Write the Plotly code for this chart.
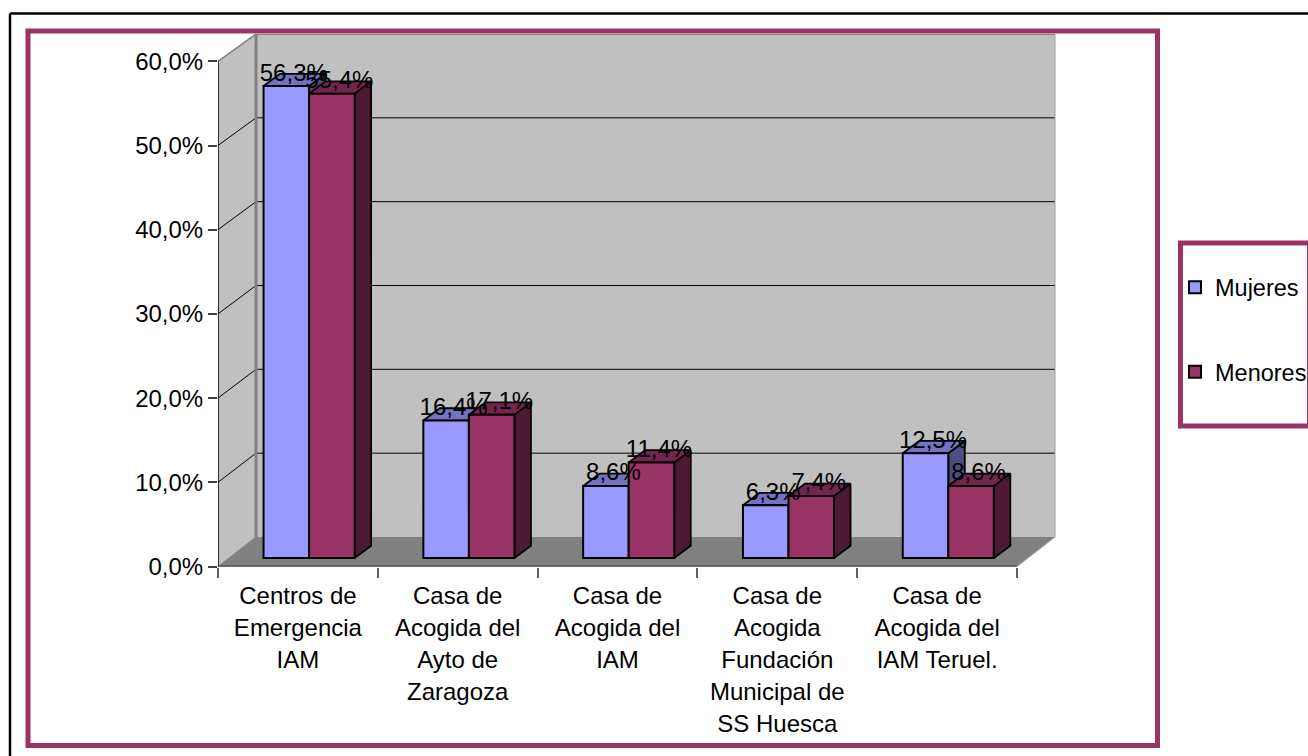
import plotly.graph_objects as go

categories = [
    ["Centros de", "Emergencia", "IAM"],
    ["Casa de", "Acogida del", "Ayto de", "Zaragoza"],
    ["Casa de", "Acogida del", "IAM"],
    ["Casa de", "Acogida", "Fundación", "Municipal de", "SS Huesca"],
    ["Casa de", "Acogida del", "IAM Teruel."],
]
mujeres = [56.3, 16.4, 8.6, 6.3, 12.5]
menores = [55.4, 17.1, 11.4, 7.4, 8.6]
y_ticks = [0, 10, 20, 30, 40, 50, 60]

W, H = 1308, 756
FONT = "Liberation Sans"
FS = 23.5
AXFS = 24
LABFS = 24
PURPLE = "#993366"
BLUE = "#9999FF"

# plot box in pixels (front plane origin + wall depth)
px_left, px_right = 218, 1056
py_top, py_bottom = 34, 566.5
x_unit = 159.8   # px per category
y_unit = 8.42    # px per 1 %
x_max = (px_right - px_left) / x_unit
y_max = (py_bottom - py_top) / y_unit

# depth of the walls and of the bars, in axis units
wall_dx, wall_dy = 38 / x_unit, 29.5 / y_unit
wall_scale = (y_max - wall_dy) / 60
bar_dx, bar_dy = 16.5 / x_unit, 12.3 / y_unit
bar_base = 8.5 / y_unit
bar_scale = 0.9955
group_center = 0.57
gap = 0.43
bar_w = (1 - gap) / 2
n = len(categories)

shapes = []


def poly(pts):
    return "M" + "L".join(f"{a},{b}" for a, b in pts) + "Z"


def add_path(pts, fill, line="rgba(0,0,0,0)", width=0):
    shapes.append(dict(type="path", path=poly(pts), xref="x", yref="y", layer="below",
                       fillcolor=fill, line=dict(color=line, width=width)))


def add_line(x0, y0, x1, y1, color, width):
    shapes.append(dict(type="line", x0=x0, y0=y0, x1=x1, y1=y1, xref="x", yref="y",
                       layer="below", line=dict(color=color, width=width)))


top = y_ticks[-1]
# walls
add_path([(wall_dx, wall_dy), (n + wall_dx, wall_dy), (n + wall_dx, y_max), (wall_dx, y_max)], "#C0C0C0")
add_path([(0, 0), (wall_dx, wall_dy), (wall_dx, y_max), (0, top)], "#C0C0C0")
add_path([(0, 0), (n, 0), (n + wall_dx, wall_dy), (wall_dx, wall_dy)], "#808080")
# gridlines
for t in y_ticks[1:-1]:
    back = wall_dy + t * wall_scale
    add_line(0, t, wall_dx, back, "#000000", 1)
    add_line(wall_dx, back, n + wall_dx, back, "#000000", 1)
# wall outlines
add_line(0, top, wall_dx, y_max, "#808080", 1.5)
add_line(wall_dx, y_max, n + wall_dx, y_max, "#808080", 2)
add_line(wall_dx, wall_dy, wall_dx, y_max, "#808080", 3)
add_line(n + wall_dx, wall_dy, n + wall_dx, y_max, "#A0A0A0", 1)
add_line(0, 0, wall_dx, wall_dy, "#808080", 1)
add_line(n, 0, n + wall_dx, wall_dy, "#A0A0A0", 1)
# front axis lines
add_line(0, 0, 0, top, "#000000", 1.5)
add_line(0, 0, n, 0, "#000000", 1.5)

xc = [i + group_center for i in range(n)]


def faces(values, j):
    top_x, top_y, side_x, side_y = [], [], [], []
    for c, v in zip(xc, values):
        l = c - bar_w + j * bar_w
        r = l + bar_w
        t = bar_base + v * bar_scale
        top_x += [l, r, r + bar_dx, l + bar_dx, l, None]
        top_y += [t, t, t + bar_dy, t + bar_dy, t, None]
        side_x += [r, r, r + bar_dx, r + bar_dx, r, None]
        side_y += [bar_base, t, t + bar_dy, bar_base + bar_dy, bar_base, None]
    return top_x, top_y, side_x, side_y


fig = go.Figure()
series = [
    ("Mujeres", mujeres, BLUE, "#7373BF", "#4D4D80"),
    ("Menores", menores, PURPLE, "#73264D", "#4D1A33"),
]
for j, (name, vals, front, top_c, side_c) in enumerate(series):
    tx, ty, sx, sy = faces(vals, j)
    for fx, fy, col in ((sx, sy, side_c), (tx, ty, top_c)):
        fig.add_trace(go.Scatter(x=fx, y=fy, mode="lines", fill="toself", fillcolor=col,
                                 line=dict(color="#000000", width=1.8), showlegend=False,
                                 hoverinfo="skip", xaxis="x", yaxis="y"))

for j, (name, vals, front, top_c, side_c) in enumerate(series):
    fig.add_trace(go.Bar(x=xc, y=[v * bar_scale for v in vals], base=[bar_base] * n, name=name,
                         legendgroup=name, marker=dict(color=front, line=dict(color="#000000", width=2)),
                         xaxis="x2", yaxis="y2"))

label_dx, label_dy = 7.5 / x_unit, 11.5 / y_unit
for j, (name, vals, *_rest) in enumerate(series):
    fig.add_trace(go.Scatter(
        x=[c - bar_w + (j + 0.5) * bar_w + label_dx for c in xc],
        y=[bar_base + v * bar_scale + label_dy for v in vals],
        text=[f"{v:.1f}%".replace(".", ",") for v in vals],
        mode="text", textposition="middle center", cliponaxis=False,
        textfont=dict(family=FONT, size=LABFS, color="#000000"),
        showlegend=False, hoverinfo="skip", xaxis="x2", yaxis="y2"))

# frames
paper = dict(xref="paper", yref="paper", layer="above")


def px(x):
    return x / W


def py(y):
    return 1 - y / H


shapes += [
    dict(type="line", x0=px(10), y0=py(13.5), x1=px(W), y1=py(13.5), line=dict(color="#000", width=2.5), **paper),
    dict(type="line", x0=px(10), y0=py(13.5), x1=px(10), y1=py(H), line=dict(color="#000", width=2.5), **paper),
    dict(type="rect", x0=px(28), y0=py(31), x1=px(1157.5), y1=py(745.5), line=dict(color=PURPLE, width=5), **paper),
    dict(type="rect", x0=px(1180.5), y0=py(243), x1=px(1320), y1=py(426), line=dict(color=PURPLE, width=5), **paper),
    dict(type="line", x0=px(1307.5), y0=py(243), x1=px(1307.5), y1=py(426), line=dict(color=PURPLE, width=1), **paper),
]

LH_FS = 32 / 1.3
ticktext = ["<br>".join(f'<span style="font-size:{AXFS}px">{ln}</span>' for ln in c) for c in categories]

dom_x = [px_left / W, px_right / W]
dom_y = [1 - py_bottom / H, 1 - py_top / H]
fig.update_layout(
    width=W, height=H, margin=dict(l=0, r=0, t=0, b=0, autoexpand=False), autosize=False,
    paper_bgcolor="#FFFFFF", plot_bgcolor="rgba(0,0,0,0)",
    font=dict(family=FONT, size=FS, color="#000000"),
    barmode="group", bargap=gap, bargroupgap=0,
    shapes=shapes,
    xaxis=dict(domain=dom_x, range=[0, x_max], showgrid=False, zeroline=False, showline=False,
               tickmode="array", tickvals=[i + 0.5 for i in range(n)], ticktext=ticktext, ticks="",
               tickangle=0, tickfont=dict(family=FONT, size=LH_FS, color="#000"),
               minor=dict(tickmode="array", tickvals=list(range(n + 1)), ticks="outside", ticklen=10,
                          tickwidth=1.5, tickcolor="#606060", showgrid=False),
               ticklabelstandoff=12, fixedrange=True),
    yaxis=dict(domain=dom_y, range=[0, y_max], showgrid=False, zeroline=False, showline=False,
               tickmode="array", tickvals=y_ticks, ticktext=[f"{t},0%" for t in y_ticks],
               ticks="outside", ticklen=9, tickwidth=1.5, tickcolor="#404040",
               tickfont=dict(family=FONT, size=AXFS, color="#000"), fixedrange=True),
    xaxis2=dict(domain=dom_x, range=[0, x_max], overlaying="x", visible=False, fixedrange=True),
    yaxis2=dict(domain=dom_y, range=[0, y_max], overlaying="y", visible=False, fixedrange=True),
    legend=dict(x=px(1175), y=py(265.5), xanchor="left", yanchor="top", bgcolor="rgba(0,0,0,0)",
                borderwidth=0, tracegroupgap=51, font=dict(family=FONT, size=FS, color="#000"),
                traceorder="grouped"),
)

fig.write_html("out.html", config=dict(displayModeBar=False),
               post_script="document.body.style.margin='0';document.body.style.overflow='hidden';")
